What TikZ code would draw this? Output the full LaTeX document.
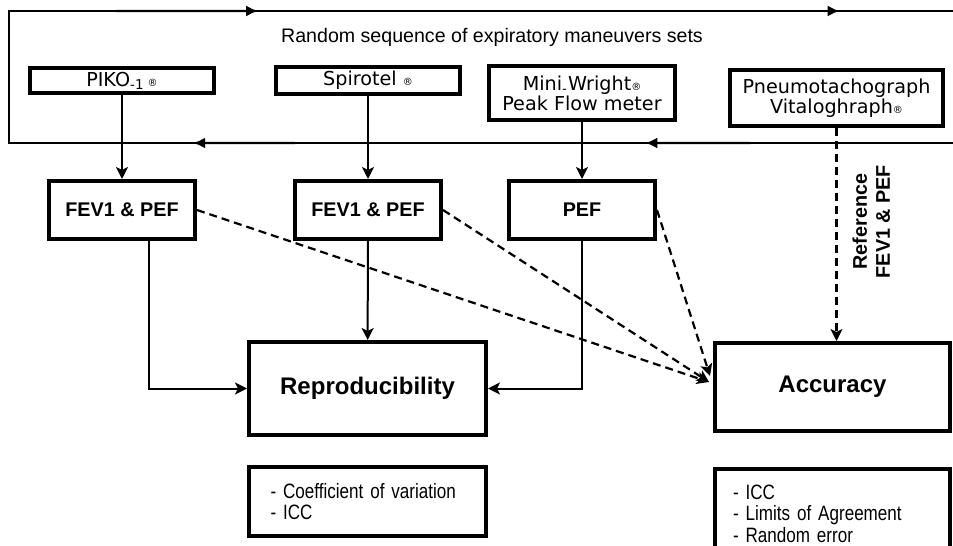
\documentclass[tikz,border=0pt]{standalone}
\usepackage{fontspec}
\setmainfont{Liberation Sans}
\newfontfamily\devicefont{DejaVu Sans}
\newfontfamily\narrowfont[FakeStretch=0.82]{Liberation Sans}
\usepackage{tikz}
\usetikzlibrary{shapes.geometric, arrows, arrows.meta, calc, positioning}
\newcommand{\regmark}{{\fontsize{5}{5}\selectfont ®}}
\tikzstyle{device} = [rectangle, line width=1.8pt, inner sep=0pt, align=center, draw=black, font=\devicefont\fontsize{9.6}{10}\selectfont]
\tikzstyle{measure} = [rectangle, line width=2pt, minimum width=73pt, minimum height=29pt, text centered, draw=black, font=\bfseries\fontsize{9.9}{11}\selectfont]
\tikzstyle{outcome} = [rectangle, line width=2pt, text centered, draw=black, font=\bfseries\fontsize{12}{14}\selectfont]
\tikzstyle{stats} = [rectangle, line width=2pt, align=left, draw=black, font=\narrowfont\fontsize{10.4}{10.7}\selectfont]
\tikzstyle{arrow} = [line width=1pt, -{Stealth[length=6pt, width=6pt, inset=1.5pt]}]
\tikzstyle{dasharrow} = [arrow, line width=1.1pt, dash pattern=on 4pt off 2.5pt]
\tikzstyle{loopline} = [line width=0.7pt]
\tikzstyle{looparrow} = [line width=1.2pt, -{Latex[length=6pt, width=5.5pt]}]
\begin{document}
\begin{tikzpicture}[x=0.5pt, y=-0.5pt]
		\useasboundingbox (0,0) rectangle (953,546);
		\coordinate (LoopTL) at (9,11);
		\coordinate (LoopTR) at (953,11);
		\coordinate (LoopBL) at (9,143);
		\coordinate (LoopBR) at (953,143);
		\node (Title) [font=\fontsize{9.8}{11}\selectfont] at (492,37) {Random sequence of expiratory maneuvers sets};
		\node (Piko) [device, minimum width=92pt, minimum height=12.5pt] at (122,80.5) {PIKO\textsubscript{-1}\,\regmark};
		\node (Spirotel) [device, minimum width=92pt, minimum height=13.5pt] at (368,80.5) {Spirotel \regmark};
		\node (MiniWright) [device, minimum width=93pt, minimum height=27pt] at (582,93) {Mini\textsubscript{-}Wright\regmark\\Peak Flow meter};
		\node (Pneumo) [device, minimum width=106.5pt, minimum height=28pt] at (836.5,98) {Pneumotachograph\\Vitaloghraph\regmark};
		\node (MeasurePiko) [measure] at (122,210) {FEV1 \& PEF};
		\node (MeasureSpirotel) [measure] at (368,210) {FEV1 \& PEF};
		\node (MeasureWright) [measure] at (582,210) {PEF};
		\node (Reproducibility) [outcome, minimum width=118.5pt, minimum height=46.5pt] at (367.5,388.5) {Reproducibility};
		\node (Accuracy) [outcome, minimum width=117.5pt, minimum height=44pt] at (832.5,387) {Accuracy};
		\node (ReproStats) [stats, text width=97pt, inner xsep=10.5pt, minimum width=118.5pt, minimum height=34.5pt, below = 14pt of Reproducibility] {- Coefficient of variation\\- ICC};
		\node (AccuracyStats) [stats, text width=99.5pt, inner xsep=9pt, minimum width=117.5pt, minimum height=44.5pt, below = 17pt of Accuracy] {- ICC\\- Limits of Agreement\\- Random error};
		\coordinate (PikoOut) at ($(MeasurePiko.south)+(27,0)$);
		\coordinate (AccuracyIn) at ($(Accuracy.west)+(-4,-5)$);
		\coordinate (AccuracyInTop) at ($(Accuracy.west)+(-3,-11)$);
		\draw [loopline] (LoopTR) -- (LoopTL) -- (LoopBL) -- (LoopBR);
		\draw [looparrow] ($(LoopTL)!0.114!(LoopTR)$) -- ($(LoopTL)!0.264!(LoopTR)$);
		\draw [looparrow] ($(LoopTL)!0.732!(LoopTR)$) -- ($(LoopTL)!0.880!(LoopTR)$);
		\draw [looparrow] ($(LoopBL)!0.303!(LoopBR)$) -- ($(LoopBL)!0.195!(LoopBR)$);
		\draw [looparrow] ($(LoopBL)!0.785!(LoopBR)$) -- ($(LoopBL)!0.674!(LoopBR)$);
		\draw [arrow] (Piko) -- (MeasurePiko);
		\draw [arrow] (Spirotel) -- (MeasureSpirotel);
		\draw [arrow] (MiniWright.south) -- (MiniWright.south |- MeasureWright.north);
		\draw [arrow] (PikoOut) |- (Reproducibility.west);
		\draw [arrow] (MeasureSpirotel) -- (Reproducibility);
		\draw [arrow] (MeasureWright.south) |- (Reproducibility.east);
		\draw [dasharrow] (MeasurePiko.east) -- (AccuracyIn);
		\draw [dasharrow] (MeasureSpirotel.east) -- (AccuracyIn);
		\draw [dasharrow] (MeasureWright.east) -- (AccuracyInTop);
		\draw [dasharrow] (Pneumo.south) -- (Pneumo.south |- Accuracy.north) node[pos=0.44, rotate=90, anchor=north, inner ysep=7.5pt, align=center, font=\bfseries\fontsize{9.9}{11.5}\selectfont]{Reference\\FEV1 \& PEF};
		\end{tikzpicture}
\end{document}
